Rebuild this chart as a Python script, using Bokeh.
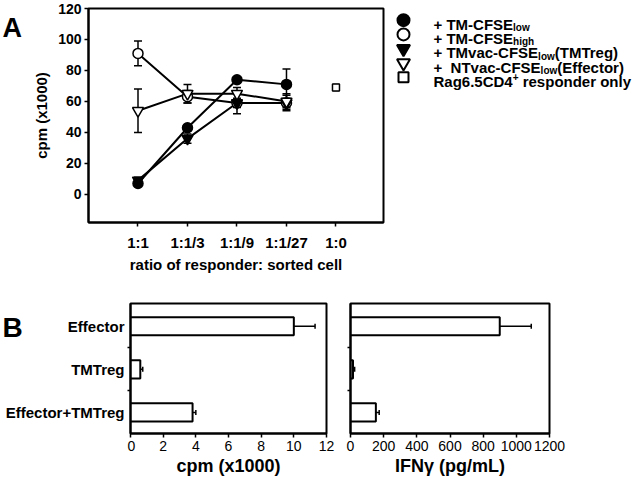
from bokeh.plotting import figure
from bokeh.models import FixedTicker, Whisker, TeeHead, ColumnDataSource, Range1d
from bokeh.layouts import column, row
from bokeh.embed import file_html
from bokeh.resources import INLINE
from bokeh.core.properties import value

FONT = "Liberation Sans"

# ---------------- data ----------------
ratio_labels = ["1:1", "1:1/3", "1:1/9", "1:1/27", "1:0"]
ratio_pos = [1, 2, 3, 4, 5]
series_x = [1, 2, 3, 4]

tm_low = [7, 43, 74, 71]
tm_low_err = [2, 2, 2, 10]
tm_high = [91, 63, 59, 59]
tm_high_err = [8, 4, 3, 3]
tmvac_low = [9, 36, 59, 59]
tmvac_low_err = [2, 3, 7, 5]
ntvac_low = [54, 65, 65, 60]
ntvac_low_err = [14, 6, 4, 5]
resp_only_x = [5]
resp_only = [69]
resp_only_err = [2]

b_cats = ["Effector", "TMTreg", "Effector+TMTreg"]
b_pos = [2, 1, 0]
cpm_vals = [10.0, 0.6, 3.8]
cpm_err = [1.3, 0.15, 0.2]
ifn_vals = [900, 15, 153]
ifn_err = [190, 10, 20]

legend_rows = [
    [("+ TM-CFSE", "main"), ("low", "sub")],
    [("+ TM-CFSE", "main"), ("high", "sub")],
    [("+ TMvac-CFSE", "main"), ("low", "sub"), ("(TMTreg)", "main")],
    [("+\u00a0 NTvac-CFSE", "main"), ("low", "sub"), ("(Effector)", "main")],
    [("Rag6.5CD4", "main"), ("+", "sup"), ("\u00a0responder only", "main")],
]
legend_markers = ["circle", "circle", "inverted_triangle", "inverted_triangle", "square"]
legend_fills = ["black", "white", "black", "white", "white"]

# Arial-Bold-compatible advance widths (per 1000 em)
W = {" ": 278, "\u00a0": 278, "+": 584, "-": 333, "(": 333, ")": 333, ".": 278,
     "A": 722, "C": 722, "D": 722, "E": 667, "F": 611, "M": 833, "N": 722, "R": 722,
     "S": 667, "T": 611, "a": 556, "c": 556, "d": 611, "e": 556, "f": 333, "g": 611,
     "h": 611, "i": 278, "l": 278, "n": 611, "o": 611, "p": 611, "r": 389, "s": 556,
     "t": 333, "v": 556, "w": 778, "y": 556}
for d in "0123456789":
    W[d] = 556


def tw(s, size):
    return sum(W.get(c, 556) for c in s) * size / 1000.0


def style_common(p):
    p.xgrid.visible = False
    p.ygrid.visible = False
    p.outline_line_color = "black"
    p.outline_line_width = 2
    p.outline_line_alpha = 1
    p.background_fill_color = "white"
    p.border_fill_color = "white"
    for ax in p.axis:
        ax.axis_line_width = 2
        ax.major_tick_line_width = 1.5
        ax.minor_tick_line_width = 1.5
        ax.major_tick_in = 0
        ax.minor_tick_in = 0
        ax.major_label_text_font = FONT
        ax.axis_label_text_font = FONT
        ax.axis_label_text_font_style = "bold"
        ax.major_label_text_color = "black"
        ax.axis_label_text_color = "black"


def blank_fig(width, height, x_range, y_range, top=0, bottom=0):
    p = figure(width=width, height=height, x_range=x_range, y_range=y_range,
               output_backend="svg", toolbar_location=None,
               x_axis_location=None, y_axis_location=None,
               min_border_left=0, min_border_right=0, min_border_top=top, min_border_bottom=bottom)
    p.xgrid.visible = False
    p.ygrid.visible = False
    p.outline_line_color = None
    return p


# ---------------- Panel A ----------------
pAl = blank_fig(30, 275, Range1d(0, 30), Range1d(275, 0))
pAl.text(x=[2], y=[25], text=["A"], text_font=value(FONT), text_font_style="bold",
         text_font_size=value("27px"), text_baseline="alphabetic", text_align="left",
         text_color="black")

pA = figure(width=360, height=275, x_range=Range1d(0, 5.96), y_range=Range1d(-18.2, 120),
            output_backend="svg", toolbar_location=None,
            min_border_left=55, min_border_right=7, min_border_top=8, min_border_bottom=47)
style_common(pA)
pA.yaxis.ticker = FixedTicker(ticks=[0, 20, 40, 60, 80, 100, 120], minor_ticks=[])
pA.yaxis.major_tick_out = 4
pA.yaxis.major_label_text_font_size = "14px"
pA.yaxis.major_label_text_font_style = "bold"
pA.yaxis.axis_label = "cpm (x1000)"
pA.yaxis.axis_label_text_font_size = "15px"
pA.yaxis.axis_label_standoff = 5
pA.yaxis.major_label_standoff = 3
pA.xaxis.ticker = FixedTicker(ticks=ratio_pos, minor_ticks=[])
pA.xaxis.major_label_overrides = {p: l for p, l in zip(ratio_pos, ratio_labels)}
pA.xaxis.major_tick_out = 4
pA.xaxis.major_label_text_font_size = "15px"
pA.xaxis.major_label_text_font_style = "bold"
pA.xaxis.major_label_standoff = 7
pA.xaxis.axis_label = "ratio of responder: sorted cell"
pA.xaxis.axis_label_text_font_size = "15px"
pA.xaxis.axis_label_standoff = 2

series = [
    (tm_low, tm_low_err, "circle", "black"),
    (tm_high, tm_high_err, "circle", "white"),
    (tmvac_low, tmvac_low_err, "inverted_triangle", "black"),
    (ntvac_low, ntvac_low_err, "inverted_triangle", "white"),
]
for vals, errs, mk, fill in series:
    src = ColumnDataSource(dict(x=series_x, y=vals,
                                lo=[v - e for v, e in zip(vals, errs)],
                                hi=[v + e for v, e in zip(vals, errs)]))
    pA.add_layout(Whisker(base="x", lower="lo", upper="hi", source=src, dimension="height",
                          line_width=1.5, line_color="black",
                          upper_head=TeeHead(size=8, line_width=1.5, line_color="black"),
                          lower_head=TeeHead(size=8, line_width=1.5, line_color="black")))
    pA.line("x", "y", source=src, line_width=2, line_color="black")
for vals, errs, mk, fill in series:
    pA.scatter(series_x, vals, marker=mk, size=10 if mk == "circle" else 11,
               fill_color=fill, line_color="black", line_width=1.5)

src_r = ColumnDataSource(dict(x=resp_only_x, y=resp_only,
                              lo=[v - e for v, e in zip(resp_only, resp_only_err)],
                              hi=[v + e for v, e in zip(resp_only, resp_only_err)]))
pA.add_layout(Whisker(base="x", lower="lo", upper="hi", source=src_r, dimension="height",
                      line_width=1.5, line_color="black",
                      upper_head=TeeHead(size=6, line_width=1.5, line_color="black"),
                      lower_head=TeeHead(size=6, line_width=1.5, line_color="black")))
pA.scatter(resp_only_x, resp_only, marker="square", size=7, fill_color="white",
           line_color="black", line_width=1.5)

# ---------------- Legend (panel A) ----------------
pL = blank_fig(250, 275, Range1d(0, 250), Range1d(275, 0))
row_y0, row_dy = 15, 18.3
mk_x, txt_x = 13, 43
for i, (mk, fill) in enumerate(zip(legend_markers, legend_fills)):
    yy = row_y0 + i * row_dy
    sz = {"circle": 12, "inverted_triangle": 13, "square": 10}[mk]
    pL.scatter([mk_x], [yy], marker=mk, size=sz, fill_color=fill, line_color="black", line_width=2)

tx, ty, tt, tsz = [], [], [], []
for i, parts in enumerate(legend_rows):
    base = row_y0 + i * row_dy + 5.5
    x = txt_x
    for s, kind in parts:
        size = 15 if kind == "main" else 10
        y = base + (4 if kind == "sub" else (-6 if kind == "sup" else 0))
        tx.append(x); ty.append(y); tt.append(s); tsz.append("%dpx" % size)
        x += tw(s, size)
srcT = ColumnDataSource(dict(x=tx, y=ty, text=tt, sz=tsz))
pL.text(x="x", y="y", text="text", source=srcT, text_font=value(FONT), text_font_style="bold",
        text_font_size="sz", text_baseline="alphabetic", text_align="left", text_color="black")

# ---------------- Panel B ----------------
B_YR = (-0.49, 2.53)
B_TOP, B_BOT = 28, 47

pBl = blank_fig(127, 205, Range1d(0, 127), Range1d(*B_YR), top=B_TOP, bottom=B_BOT)
pBl.text(x=[124] * len(b_cats), y=b_pos, text=b_cats, text_font=value(FONT),
         text_font_style="bold", text_font_size=value("15px"), text_baseline="middle",
         text_align="right", text_color="black")
pBl.text(x=[2], y=[1.98], text=["B"], text_font=value(FONT), text_font_style="bold",
         text_font_size=value("28px"), text_baseline="alphabetic", text_align="left",
         text_color="black")


def make_b(vals, errs, xmax, xticks, xlabel, width, bl, br):
    p = figure(width=width, height=205, x_range=Range1d(0, xmax), y_range=Range1d(*B_YR),
               output_backend="svg", toolbar_location=None,
               min_border_left=bl, min_border_right=br, min_border_top=B_TOP,
               min_border_bottom=B_BOT)
    style_common(p)
    p.hbar(y=b_pos, right=vals, left=0, height=0.42, fill_color="white", line_color="black",
           line_width=2)
    src = ColumnDataSource(dict(y=b_pos, lo=vals, hi=[v + e for v, e in zip(vals, errs)]))
    p.add_layout(Whisker(base="y", lower="lo", upper="hi", source=src, dimension="width",
                         line_width=1.5, line_color="black", lower_head=None,
                         upper_head=TeeHead(size=5, line_width=1.5, line_color="black")))
    p.yaxis.ticker = FixedTicker(ticks=b_pos, minor_ticks=[0.5, 1.5])
    p.yaxis.major_tick_out = 0
    p.yaxis.minor_tick_out = 3
    p.yaxis.major_label_overrides = {pp: "" for pp in b_pos}
    p.yaxis.major_label_standoff = 0
    p.xaxis.ticker = FixedTicker(ticks=xticks, minor_ticks=[])
    p.xaxis.major_tick_out = 4
    p.xaxis.major_label_text_font_size = "14px"
    p.xaxis.major_label_standoff = 3
    p.xaxis.axis_label = xlabel
    p.xaxis.axis_label_text_font_size = "18px"
    p.xaxis.axis_label_standoff = 2
    return p


pB1 = make_b(cpm_vals, cpm_err, 12, [0, 2, 4, 6, 8, 10, 12], "cpm (x1000)", 213, 3, 14)
pB2 = make_b(ifn_vals, ifn_err, 1200, [0, 200, 400, 600, 800, 1000, 1200], "IFN\u03b3 (pg/mL)",
             300, 10, 91)

root = column(row(pAl, pA, pL), row(pBl, pB1, pB2))
open("out.html", "w").write(file_html(root, INLINE))
